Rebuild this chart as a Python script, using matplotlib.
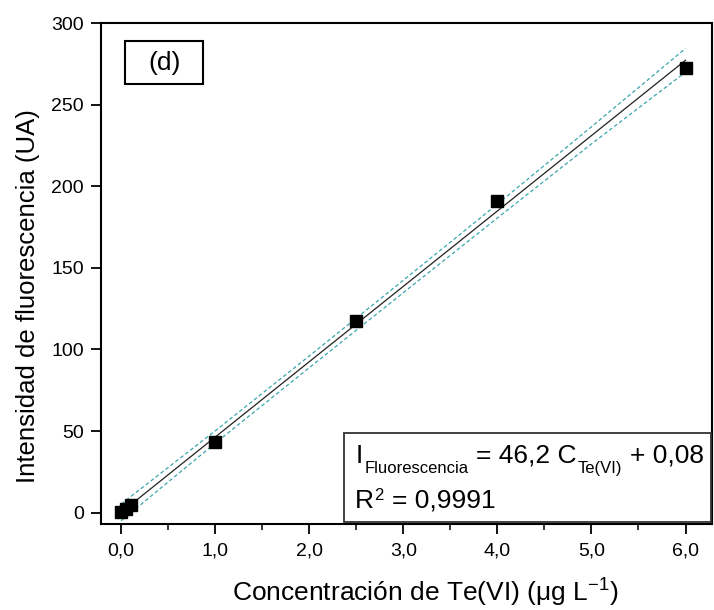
import numpy as np
import matplotlib
matplotlib.use("Agg")
import matplotlib.pyplot as plt
import matplotlib.ticker as ticker
from matplotlib.patches import Rectangle
from matplotlib.transforms import offset_copy

plt.rcParams['font.family'] = ['Liberation Sans', 'DejaVu Sans']
plt.rcParams['mathtext.fontset'] = 'custom'
plt.rcParams['mathtext.rm'] = 'Liberation Sans'
plt.rcParams['mathtext.it'] = 'Liberation Sans'
plt.rcParams['mathtext.default'] = 'regular'

# data
conc = [0.0, 0.05, 0.1, 1.0, 2.5, 4.0, 6.0]
intensity = [0.5, 2.0, 4.5, 43.0, 117.5, 190.8, 272.5]
intensity_err = [0.5, 0.5, 0.5, 0.6, 0.8, 1.0, 2.0]

slope = 46.2
intercept = 0.08

# 95% confidence band (read at a few x positions)
band_x = [0.0, 1.0, 2.0, 3.0, 4.0, 5.0, 6.0]
band_upper = [5.2, 50.1, 96.0, 142.4, 189.1, 236.5, 284.5]
band_lower = [-5.0, 42.5, 88.8, 134.8, 180.6, 226.0, 270.0]

xticks = [0, 1, 2, 3, 4, 5, 6]
xtick_labels = ['0,0', '1,0', '2,0', '3,0', '4,0', '5,0', '6,0']
yticks = [0, 50, 100, 150, 200, 250, 300]

fig = plt.figure(figsize=(7.14, 6.10), dpi=100)
ax = fig.add_axes([0.142, 0.141, 0.855, 0.821])

fit_x = np.array([0.0, 6.0])
ax.plot(fit_x, slope * fit_x + intercept, '-', color='#222222', lw=0.9, zorder=2)
ax.plot(band_x, band_upper, '--', color='#3aa6ad', lw=0.9, dashes=(3, 2), zorder=2)
ax.plot(band_x, band_lower, '--', color='#3aa6ad', lw=0.9, dashes=(3, 2), zorder=2)
ax.errorbar(conc, intensity, yerr=intensity_err, fmt='s', color='black',
            markersize=8, capsize=3, elinewidth=1, zorder=3)

ax.set_xlim(-0.21, 6.28)
ax.set_ylim(-7, 300)
ax.set_xticks(xticks)
ax.set_xticklabels(xtick_labels)
ax.set_yticks(yticks)
ax.xaxis.set_minor_locator(ticker.MultipleLocator(0.5))
ax.tick_params(axis='both', which='major', direction='out', length=7.5, width=1.3,
               labelsize=14)
ax.tick_params(axis='x', which='major', pad=6)
ax.tick_params(axis='y', which='major', pad=5)
ax.tick_params(axis='x', which='minor', direction='out', length=4.5, width=1.1)
for s in ax.spines.values():
    s.set_linewidth(1.5)

ax.set_xlabel('Concentración de Te(VI) ($\\mu$g L$^{-1}$)', fontsize=19, labelpad=12)
ax.set_ylabel('Intensidad de fluorescencia (UA)', fontsize=18.5, labelpad=8)
ax.xaxis.label.set_x(0.531)
ax.yaxis.label.set_y(0.455)

# (d) panel label
ax.add_patch(Rectangle((0.039, 0.878), 0.128, 0.086, transform=ax.transAxes,
                       facecolor='white', edgecolor='black', lw=1.5, zorder=4))
ax.text(0.103, 0.921, '(d)', transform=ax.transAxes, fontsize=19,
        ha='center', va='center', zorder=5)

# equation box
ax.add_patch(Rectangle((0.397, 0.004), 0.601, 0.178, transform=ax.transAxes,
                       facecolor='white', edgecolor='#333333', lw=1.3, zorder=4))

renderer = fig.canvas.get_renderer()


def piece_text(x0, y0, pieces):
    x_px = 0.0
    for s, size, dy, gap in pieces:
        x_px += gap
        tr = offset_copy(ax.transAxes, fig=fig, x=x_px, y=dy, units='dots')
        t = ax.text(x0, y0, s, transform=tr, fontsize=size, va='baseline',
                    ha='left', zorder=5)
        x_px += t.get_window_extent(renderer).width


piece_text(0.416, 0.122, [('I', 19, 0, 0), ('Fluorescencia', 12, -10, 2),
                          ('= 46,2 C', 19, 0, 7), ('Te(VI)', 12, -10, 1),
                          ('+ 0,08', 19, 0, 8)])
piece_text(0.416, 0.032, [('R', 19, 0, 0), ('2', 12, 8, 0),
                          ('= 0,9991', 19, 0, 8)])

fig.savefig('out.png', dpi=100)
